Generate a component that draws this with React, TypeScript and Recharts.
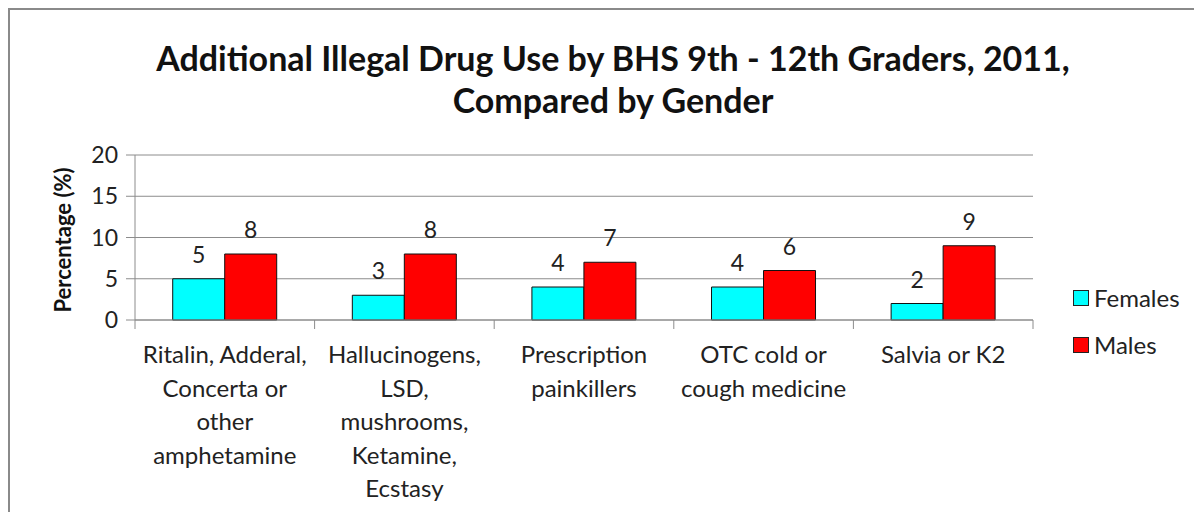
import React from "react";
import { BarChart, Bar, XAxis, YAxis, CartesianGrid, LabelList } from "recharts";

const categories: string[][] = [
  ["Ritalin, Adderal,", "Concerta or", "other", "amphetamine"],
  ["Hallucinogens,", "LSD,", "mushrooms,", "Ketamine,", "Ecstasy"],
  ["Prescription", "painkillers"],
  ["OTC cold or", "cough medicine"],
  ["Salvia or K2"],
];
const females = [5, 3, 4, 4, 2];
const males = [8, 8, 7, 6, 9];
const yTicks = [0, 5, 10, 15, 20];
const seriesNames = ["Females", "Males"];
const seriesColors = ["#00FFFF", "#FF0000"];

const data = categories.map((c, i) => ({ name: c.join("\n"), idx: i, Females: females[i], Males: males[i] }));

const FONT = "Lato, 'Open Sans', sans-serif";
const GRID = "#8c8c8c";

const XTick = (props: any) => {
  const { x, y, payload, index } = props;
  const lines: string[] = categories[payload.index ?? index] || [];
  const half = payload.offset ?? 89.5;
  return (
    <g>
      <line x1={x - half} x2={x - half} y1={y - 8} y2={y + 1} stroke={GRID} strokeWidth={1} />
      {index === categories.length - 1 && (
        <line x1={x + half} x2={x + half} y1={y - 8} y2={y + 1} stroke={GRID} strokeWidth={1} />
      )}
      {lines.map((l, i) => (
        <text key={i} x={x} y={y + 35 + i * 33.5} textAnchor="middle" fontFamily={FONT} fontSize={24} fill="#222">
          {l}
        </text>
      ))}
    </g>
  );
};

export default function App() {
  return (
    <div style={{ position: "relative", width: 1194, height: 504, borderLeft: "2px solid #8a8a8a", borderTop: "2px solid #8a8a8a", background: "#fff", overflow: "hidden" }}>
      <div style={{ position: "absolute", left: 0, top: 27, width: 1206, textAlign: "center", fontFamily: FONT, fontWeight: 700, fontSize: 34, lineHeight: "42px", color: "#111" }}>
        Additional Illegal Drug Use by BHS 9th - 12th Graders, 2011,
        <br />
        Compared by Gender
      </div>
      <div style={{ position: "absolute", left: 52, top: 230, width: 0, height: 0 }}>
        <div style={{ position: "absolute", transform: "translate(-50%,-50%) rotate(-90deg)", whiteSpace: "nowrap", fontFamily: FONT, fontWeight: 700, fontSize: 22, color: "#111" }}>
          Percentage (%)
        </div>
      </div>
      <div style={{ position: "absolute", left: 1063, top: 264, fontFamily: FONT, fontSize: 24, color: "#222" }}>
        {seriesNames.map((n, i) => (
          <div key={n} style={{ display: "flex", alignItems: "center", height: 47 }}>
            <span style={{ display: "inline-block", width: 14, height: 14, background: seriesColors[i], border: "1px solid #222", marginRight: 5 }} />
            <span>{n}</span>
          </div>
        ))}
      </div>
      <BarChart width={1192} height={502} data={data} margin={{ top: 145, right: 169, bottom: 0, left: 0 }} barCategoryGap="21%" barGap={0}>
        <CartesianGrid vertical={false} stroke={GRID} strokeWidth={1} />
        <XAxis dataKey="name" tick={<XTick />} tickLine={false} axisLine={{ stroke: GRID }} height={192} interval={0} />
        <YAxis domain={[0, 20]} ticks={yTicks} width={125} tickSize={9} tickMargin={8} tickLine={{ stroke: GRID }} axisLine={{ stroke: GRID }} tick={{ fontFamily: FONT, fontSize: 23, fill: "#222" }} />
        {seriesNames.map((n, i) => (
          <Bar key={n} dataKey={n} fill={seriesColors[i]} stroke="#111" strokeWidth={1} isAnimationActive={false}>
            <LabelList dataKey={n} position="top" offset={16} style={{ fontFamily: FONT, fontSize: 23, fill: "#222" }} />
          </Bar>
        ))}
      </BarChart>
    </div>
  );
}
